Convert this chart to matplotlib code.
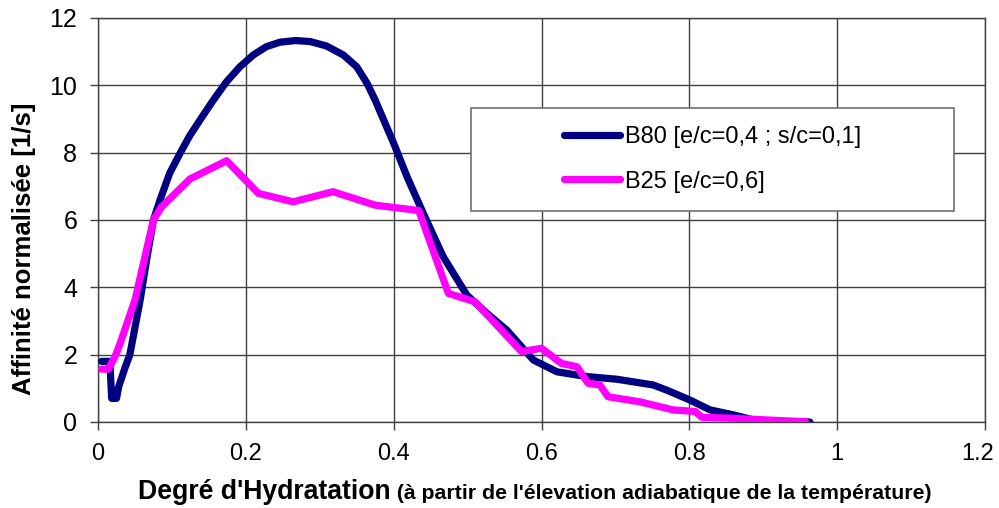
import matplotlib
matplotlib.use("Agg")
import matplotlib.pyplot as plt
from matplotlib.patches import Rectangle
from matplotlib.transforms import ScaledTranslation
from matplotlib.offsetbox import TextArea, HPacker, AnnotationBbox

plt.rcParams["font.family"] = ["Liberation Sans", "DejaVu Sans"]

# B80 [e/c=0,4 ; s/c=0,1]
b80_x = [0.005, 0.016, 0.0185, 0.025, 0.028, 0.037, 0.043, 0.057, 0.066, 0.075,
         0.084, 0.097, 0.111, 0.124, 0.138, 0.156, 0.174, 0.192, 0.210, 0.228,
         0.246, 0.267, 0.287, 0.309, 0.332, 0.350, 0.364, 0.375, 0.382, 0.400,
         0.418, 0.440, 0.467, 0.499, 0.526, 0.553, 0.589, 0.621, 0.661, 0.702,
         0.751, 0.769, 0.801, 0.828, 0.860, 0.896, 0.963]
b80_y = [1.80, 1.80, 0.70, 0.70, 1.05, 1.64, 1.99, 3.62, 4.85, 6.00,
         6.60, 7.39, 7.98, 8.50, 8.97, 9.56, 10.11, 10.55, 10.90, 11.15,
         11.28, 11.33, 11.30, 11.17, 10.90, 10.55, 10.06, 9.56, 9.20, 8.28,
         7.29, 6.20, 4.91, 3.77, 3.23, 2.73, 1.84, 1.49, 1.35, 1.27,
         1.10, 0.95, 0.65, 0.36, 0.21, 0.01, 0.0]

# B25 [e/c=0,6]
b25_x = [0.005, 0.014, 0.023, 0.030, 0.050, 0.075, 0.086, 0.1245, 0.174, 0.217,
         0.264, 0.318, 0.375, 0.434, 0.474, 0.510, 0.573, 0.600, 0.627, 0.648,
         0.663, 0.679, 0.690, 0.733, 0.778, 0.808, 0.817, 0.859, 0.905, 0.957]
b25_y = [1.57, 1.57, 1.94, 2.34, 3.62, 6.00, 6.39, 7.22, 7.76, 6.79,
         6.54, 6.84, 6.44, 6.28, 3.82, 3.57, 2.09, 2.19, 1.74, 1.64,
         1.15, 1.10, 0.75, 0.60, 0.36, 0.31, 0.14, 0.11, 0.06, 0.01]

labels = ["B80 [e/c=0,4 ; s/c=0,1]", "B25 [e/c=0,6]"]
x_ticks = [0, 0.2, 0.4, 0.6, 0.8, 1, 1.2]
x_tick_labels = ["0", "0.2", "0.4", "0.6", "0.8", "1", "1.2"]
y_ticks = [0, 2, 4, 6, 8, 10, 12]

fig = plt.figure(figsize=(9.99, 5.08), dpi=100)
ax = fig.add_axes([0.0981, 0.1693, 0.8879, 0.7953])

line_kw = dict(lw=5.2, solid_capstyle="round", solid_joinstyle="round")
ax.plot(b80_x, b80_y, color="#000080", label=labels[0], zorder=3, **line_kw)
ax.plot(b25_x, b25_y, color="#FF00FF", label=labels[1], zorder=4, **line_kw)

ax.set_xlim(0, 1.2)
ax.set_ylim(0, 12)
ax.set_xticks(x_ticks)
ax.set_xticklabels(x_tick_labels)
ax.set_yticks(y_ticks)
ax.grid(True, color="#404040", lw=1.0)
ax.set_axisbelow(True)
ax.tick_params(direction="out", length=6, width=1, pad=9, color="#404040")
ax.tick_params(axis="x", labelsize=17)
ax.tick_params(axis="y", labelsize=18)
for s in ax.spines.values():
    s.set_color("#404040")
    s.set_linewidth(1.0)

# nudge the last x label so it stays inside the figure
last = ax.get_xticklabels()[-1]
last.set_transform(last.get_transform() + ScaledTranslation(-5 / 72, 0, fig.dpi_scale_trans))

# legend frame drawn separately so the box can be wider than its contents
ax.add_patch(Rectangle((0.4205, 0.522), 0.5445, 0.256, transform=ax.transAxes,
                       facecolor="white", edgecolor="#707070", lw=1.2, zorder=5))
leg = ax.legend(loc="center", bbox_to_anchor=(0.6927, 0.650), frameon=False,
                fontsize=17, handlelength=2.4, handletextpad=0.2,
                labelspacing=0.95)
leg.set_zorder(6)

fig.text(0.024, 0.511, "Affinité normalisée [1/s]", rotation=90,
         ha="center", va="center", fontsize=18.5, fontweight="bold")

xlab = HPacker(children=[
    TextArea("Degré d'Hydratation", textprops=dict(fontsize=19.2, fontweight="bold")),
    TextArea(" (à partir de l'élevation adiabatique de la température)",
             textprops=dict(fontsize=15.3, fontweight="bold")),
], align="baseline", pad=0, sep=0)
fig.add_artist(AnnotationBbox(xlab, (0.5355, 1 - 492 / 508), xycoords="figure fraction",
                              frameon=False, box_alignment=(0.5, 0.5)))

fig.savefig("out.png", dpi=100)
